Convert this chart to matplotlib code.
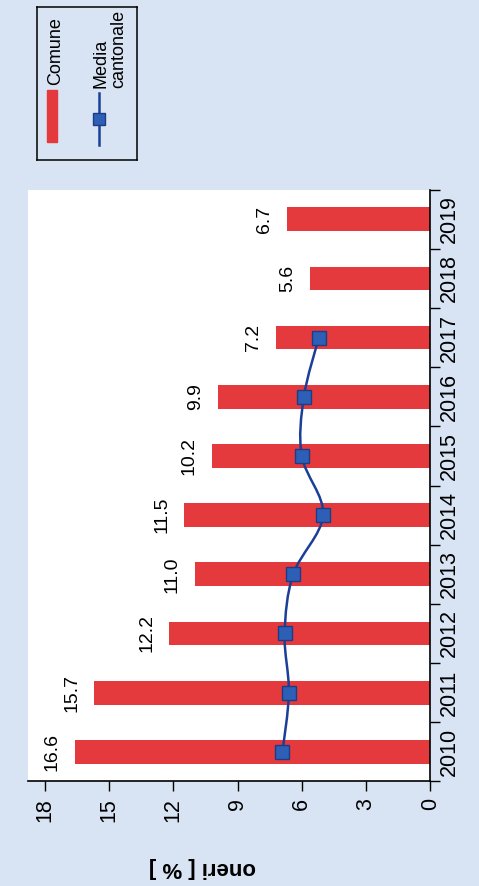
import matplotlib.pyplot as plt
import numpy as np
from matplotlib import font_manager
from matplotlib.path import Path
from matplotlib.patches import PathPatch, Rectangle
from matplotlib.lines import Line2D

anni = ['2010', '2011', '2012', '2013', '2014', '2015', '2016', '2017', '2018', '2019']
comune = [16.6, 15.7, 12.2, 11.0, 11.5, 10.2, 9.9, 7.2, 5.6, 6.7]
media = [6.9, 6.6, 6.8, 6.4, 5.0, 6.0, 5.9, 5.2]
val_ticks = [0, 3, 6, 9, 12, 15, 18]

# font stretta se disponibile (la foto comprime il testo)
installati = {f.name for f in font_manager.fontManager.ttflist}
if 'Liberation Sans Narrow' in installati:
    plt.rcParams['font.family'] = ['Liberation Sans Narrow', 'DejaVu Sans']
else:
    plt.rcParams['font.family'] = ['Liberation Sans', 'DejaVu Sans']

rosso = '#e43a3d'
blu = '#1b3f99'
sfondo = '#d8e3f3'

fig = plt.figure(figsize=(4.79, 8.86), dpi=100, facecolor=sfondo)
ax = fig.add_axes([0.058, 0.118, 0.84, 0.668])
ax.set_facecolor('white')

y = np.arange(len(anni))
ax.barh(y, comune, height=0.4, color=rosso, zorder=2)
for yi, v in zip(y, comune):
    ax.annotate(f'{v:.1f}', (v, yi), xytext=(-10, 0), textcoords='offset points',
                rotation=90, ha='right', va='center', fontsize=14)


def curva(xs, ys):
    # spline di Catmull-Rom come curve di Bezier
    p = np.column_stack([xs, ys])
    p_ext = np.vstack([p[0], p, p[-1]])
    verts = [p[0]]
    codes = [Path.MOVETO]
    for i in range(1, len(p_ext) - 2):
        c1 = p_ext[i] + (p_ext[i + 1] - p_ext[i - 1]) / 6
        c2 = p_ext[i + 1] - (p_ext[i + 2] - p_ext[i]) / 6
        verts += [c1, c2, p_ext[i + 1]]
        codes += [Path.CURVE4] * 3
    return Path(verts, codes)


ym = y[:len(media)]
ax.add_patch(PathPatch(curva(media, ym), fill=False, edgecolor=blu, lw=1.8, zorder=3))
ax.plot(media, ym, ls='none', marker='s', ms=10, mfc='#2c5fb5', mec='#1d3c85', zorder=4)

ax.set_xlim(18.8, 0)
ax.set_ylim(-0.5, 9.5)
ax.set_xticks(val_ticks)
ax.set_xticklabels([str(t) for t in val_ticks], rotation=90, fontsize=15.5)
ax.tick_params(axis='x', length=7, width=1, direction='out', pad=5)

ax.yaxis.tick_right()
ax.set_yticks(y)
ax.set_yticklabels(anni, rotation=90, va='center', fontsize=15.5)
ax.set_yticks(np.arange(-0.5, 10, 1), minor=True)
ax.tick_params(axis='y', which='major', length=0, pad=6)
ax.tick_params(axis='y', which='minor', length=7, width=1, direction='out', right=True, left=False)

for s in ['top', 'left']:
    ax.spines[s].set_visible(False)
for s in ['bottom', 'right']:
    ax.spines[s].set_linewidth(1.2)

ax.set_xlabel('oneri [ % ]', rotation=180, fontweight='bold', fontsize=16)
ax.xaxis.set_label_coords(0.433, -0.145)
ax.xaxis.label.set_va('center')

# legenda disegnata a mano (ruotata)
leg = fig.add_axes([0.077, 0.819, 0.209, 0.173])
leg.set_facecolor('none')
leg.set_xlim(0, 1)
leg.set_ylim(0, 1)
leg.set_xticks([])
leg.set_yticks([])
for s in leg.spines.values():
    s.set_linewidth(1.1)
leg.add_patch(Rectangle((0.10, 0.12), 0.10, 0.34, color=rosso))
leg.text(0.19, 0.49, 'Comune', rotation=90, ha='center', va='bottom', fontsize=13)
leg.add_line(Line2D([0.62, 0.62], [0.10, 0.44], color=blu, lw=1.8))
leg.plot([0.62], [0.27], marker='s', ms=8.5, mfc='#2c5fb5', mec='#1d3c85')
leg.text(0.73, 0.47, 'Media\ncantonale', rotation=90, ha='center', va='bottom',
         multialignment='left', fontsize=13, linespacing=1.0)

fig.savefig('out.png', dpi=100, facecolor=sfondo)
